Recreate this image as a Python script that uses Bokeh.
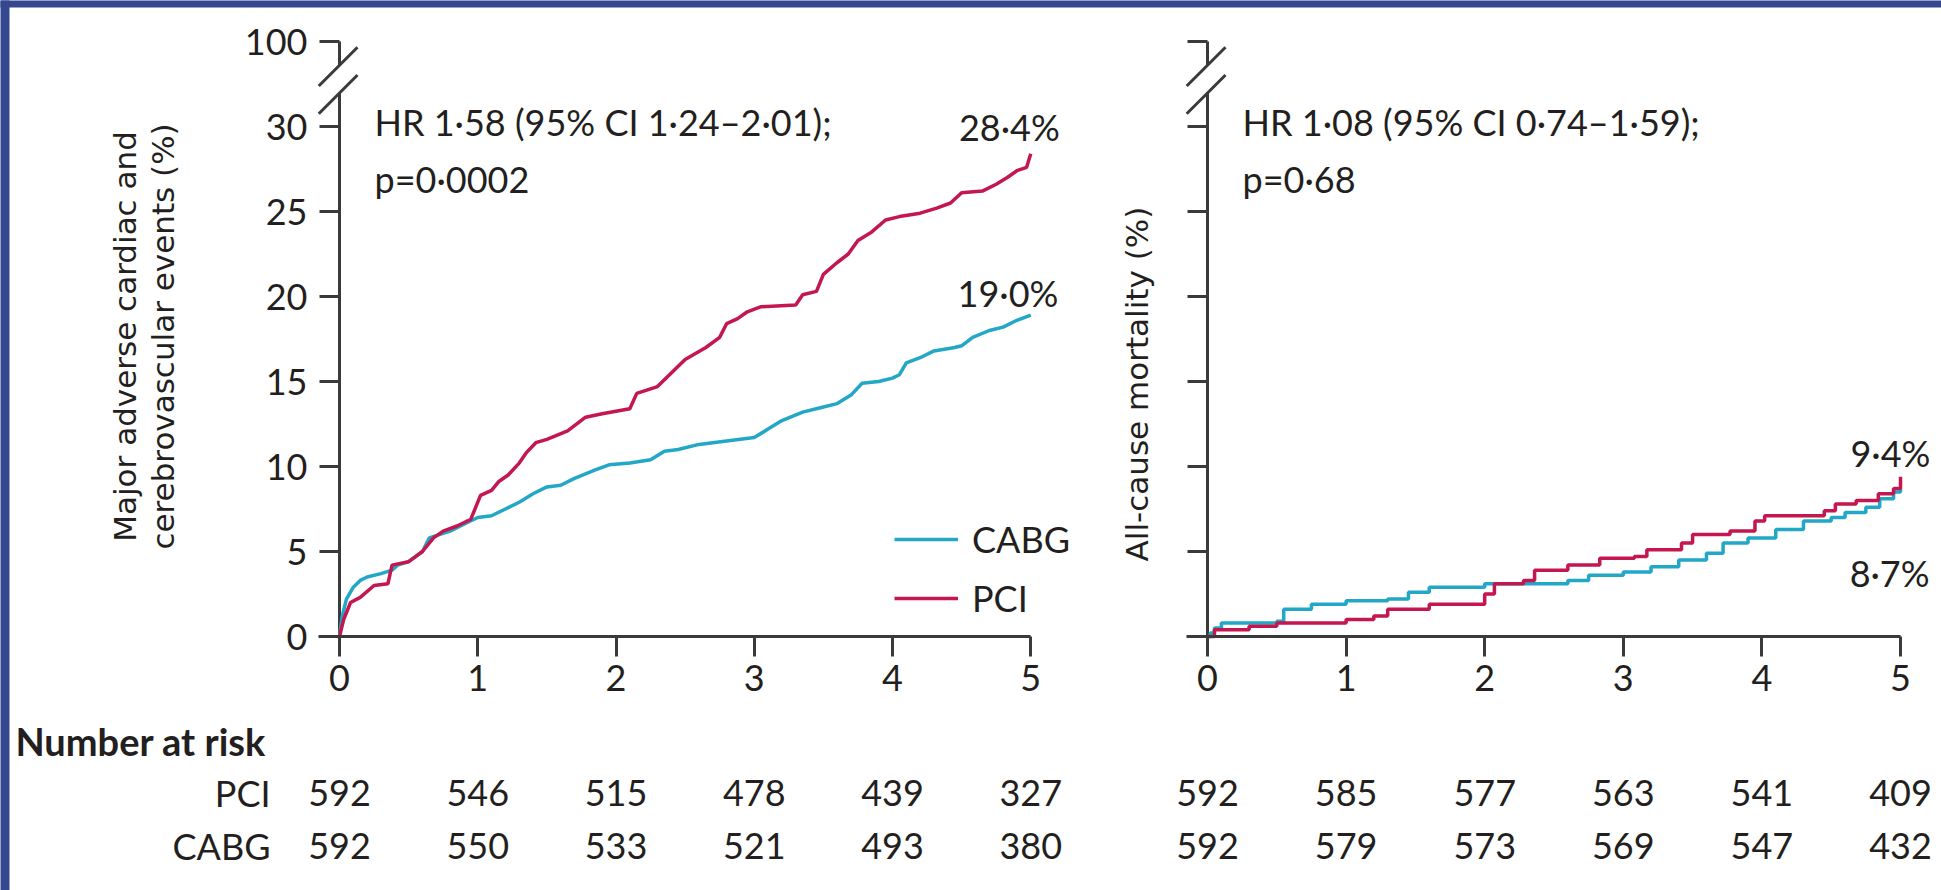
import math
from bokeh.plotting import figure
from bokeh.models import (Range1d, FixedTicker, Label, LabelSet, ColumnDataSource,
                          Legend, LegendItem, LinearAxis)
from bokeh.core.properties import value
from bokeh.embed import file_html
from bokeh.resources import INLINE

# ---------------- data ----------------
# Panel A: major adverse cardiac and cerebrovascular events (%)
mace_pci_t = [0, 0.03, 0.08, 0.15, 0.25, 0.35, 0.38, 0.5, 0.55, 0.6,
              0.68, 0.75, 0.85, 0.95, 1.02, 1.1, 1.15, 1.22, 1.3, 1.35,
              1.42, 1.5, 1.65, 1.78, 1.9, 2.1, 2.15, 2.3, 2.4, 2.5,
              2.65, 2.75, 2.8, 2.88, 2.95, 3.05, 3.3, 3.35, 3.45, 3.5,
              3.6, 3.68, 3.75, 3.85, 3.95, 4.05, 4.2, 4.32, 4.42, 4.5,
              4.65, 4.75, 4.83, 4.9, 4.97, 5.0]
mace_pci_y = [0, 1.0, 2.0, 2.3, 3.0, 3.1, 4.2, 4.4, 4.7, 5.0,
              5.8, 6.2, 6.5, 6.9, 8.3, 8.6, 9.1, 9.5, 10.2, 10.8,
              11.4, 11.6, 12.1, 12.9, 13.1, 13.4, 14.3, 14.7, 15.5, 16.3,
              17.0, 17.6, 18.4, 18.7, 19.1, 19.4, 19.5, 20.1, 20.3, 21.3,
              22.0, 22.5, 23.3, 23.8, 24.5, 24.7, 24.9, 25.2, 25.5, 26.1,
              26.2, 26.6, 27.0, 27.4, 27.6, 28.4]
mace_cabg_t = [0, 0.02, 0.05, 0.1, 0.15, 0.2, 0.3, 0.38, 0.42, 0.5,
               0.6, 0.65, 0.8, 0.9, 1.0, 1.1, 1.2, 1.3, 1.4, 1.5,
               1.6, 1.7, 1.85, 1.95, 2.1, 2.25, 2.35, 2.45, 2.6, 2.8,
               3.0, 3.1, 3.2, 3.35, 3.5, 3.6, 3.7, 3.78, 3.9, 4.0,
               4.05, 4.1, 4.2, 4.3, 4.45, 4.5, 4.58, 4.7, 4.8, 4.9, 5.0]
mace_cabg_y = [0, 1.2, 2.2, 2.9, 3.3, 3.5, 3.7, 3.9, 4.2, 4.4,
               5.0, 5.8, 6.2, 6.6, 7.0, 7.1, 7.5, 7.9, 8.4, 8.8,
               8.9, 9.3, 9.8, 10.1, 10.2, 10.4, 10.9, 11.0, 11.3, 11.5,
               11.7, 12.2, 12.7, 13.2, 13.5, 13.7, 14.2, 14.9, 15.0, 15.2,
               15.4, 16.1, 16.4, 16.8, 17.0, 17.1, 17.6, 18.0, 18.2, 18.6, 18.9]

# Panel B: all-cause mortality (%)
mort_cabg_t = [0, 0.02, 0.05, 0.1, 0.5, 0.55, 0.75, 1.0, 1.3, 1.45,
               1.6, 2.0, 2.6, 2.75, 3.0, 3.2, 3.4, 3.6, 3.72, 3.9,
               4.1, 4.3, 4.5, 4.6, 4.75, 4.85, 4.95, 5.0]
mort_cabg_y = [0, 0.2, 0.5, 0.8, 0.9, 1.6, 1.9, 2.1, 2.2, 2.6,
               2.9, 3.1, 3.3, 3.6, 3.8, 4.1, 4.5, 4.9, 5.5, 5.8,
               6.3, 6.8, 7.0, 7.3, 7.6, 8.1, 8.5, 8.7]
mort_pci_t = [0, 0.05, 0.3, 0.5, 1.0, 1.2, 1.3, 1.6, 2.0, 2.07,
              2.28, 2.36, 2.6, 2.83, 3.08, 3.17, 3.42, 3.5, 3.77, 3.95,
              4.02, 4.37, 4.45, 4.53, 4.68, 4.84, 4.95, 5.0]
mort_pci_y = [0, 0.4, 0.6, 0.8, 1.0, 1.2, 1.6, 1.9, 2.5, 3.1,
              3.3, 3.9, 4.2, 4.6, 4.7, 5.1, 5.5, 6.0, 6.2, 6.8,
              7.1, 7.1, 7.4, 7.8, 8.0, 8.4, 8.7, 9.4]

# Number at risk
risk_times = [0, 1, 2, 3, 4, 5]
mace_risk_pci = [592, 546, 515, 478, 439, 327]
mace_risk_cabg = [592, 550, 533, 521, 493, 380]
mort_risk_pci = [592, 585, 577, 563, 541, 409]
mort_risk_cabg = [592, 579, 573, 569, 547, 432]

x_ticks = [0, 1, 2, 3, 4, 5]
y_ticks = [0, 5, 10, 15, 20, 25, 30]
y_top_tick = 35            # plotted position of the "100" tick above the axis break
y_top_label = "100"

mace_ylabel = ["Major adverse cardiac and", "cerebrovascular events (%)"]
mort_ylabel = "All-cause mortality (%)"
mace_hr_text = "HR 1·58 (95% CI 1·24–2·01);"
mace_p_text = "p=0·0002"
mort_hr_text = "HR 1·08 (95% CI 0·74–1·59);"
mort_p_text = "p=0·68"
mace_end_pci, mace_end_cabg = "28·4%", "19·0%"
mort_end_pci, mort_end_cabg = "9·4%", "8·7%"

# ---------------- styles / layout ----------------
FONT = "Lato"
LABEL_FONT = "DejaVu Sans"
INK = "#231f20"
AXIS = "#3a3a3a"
CABG_COLOR = "#22a7c7"
PCI_COLOR = "#c4164f"
FRAME_BLUE = "#34478f"
FS = "36px"

W, H = 1941, 890                # canvas size (px)
Y0_PX, Y_UNIT = 636, 17.0       # pixel row of y=0 and px per y unit
L_X0_PX, L_UNIT = 339, 138.25   # left panel: pixel column of t=0, px per year
R_X0_PX, R_UNIT = 1207, 138.6   # right panel
BREAK_LOW, BREAK_HIGH = 31.97, 33.6
X_AXIS_START = -0.15
ROW_HEAD_Y, ROW_PCI_Y, ROW_CABG_Y = -6.12, -9.18, -12.35

fxl = lambda px: (px - L_X0_PX) / L_UNIT
fxr = lambda px: (px - R_X0_PX) / R_UNIT
fy = lambda py: (Y0_PX - py) / Y_UNIT

p = figure(frame_width=W, frame_height=H,
           x_range=Range1d(fxl(0), fxl(W)), y_range=Range1d(fy(H), fy(0)),
           output_backend="svg", toolbar_location=None,
           min_border=0, outline_line_color=None,
           background_fill_color="white", border_fill_color="white")
p.extra_x_ranges = {"right": Range1d(fxr(0), fxr(W))}
p.xgrid.visible = False
p.ygrid.visible = False

# blue page frame (top and left bands)
p.quad(left=[fxl(-20)], right=[fxl(W + 20)], top=[fy(-20)], bottom=[fy(7)],
       fill_color=FRAME_BLUE, line_color=None)
p.quad(left=[fxl(-20)], right=[fxl(9)], top=[fy(-20)], bottom=[fy(H + 20)],
       fill_color=FRAME_BLUE, line_color=None)


def style_xaxis(ax):
    ax.fixed_location = 0
    ax.bounds = (X_AXIS_START, 5)
    ax.ticker = FixedTicker(ticks=x_ticks)
    ax.major_tick_out = 20
    ax.major_tick_in = 0
    ax.minor_tick_out = 0
    ax.minor_tick_in = 0
    ax.axis_line_width = 3
    ax.axis_line_color = AXIS
    ax.major_tick_line_width = 3
    ax.major_tick_line_color = AXIS
    ax.major_label_text_font = FONT
    ax.major_label_text_font_size = FS
    ax.major_label_text_color = INK
    ax.major_label_standoff = 8


style_xaxis(p.xaxis[0])
xr_axis = LinearAxis(x_range_name="right")
style_xaxis(xr_axis)
p.add_layout(xr_axis, "below")

ay = p.yaxis[0]
ay.fixed_location = 0
ay.axis_line_color = None
ay.ticker = FixedTicker(ticks=y_ticks + [y_top_tick])
ay.major_label_overrides = {y_top_tick: y_top_label}
ay.major_tick_out = 20
ay.major_tick_in = 0
ay.minor_tick_out = 0
ay.minor_tick_in = 0
ay.major_tick_line_width = 3
ay.major_tick_line_color = AXIS
ay.major_label_text_font = FONT
ay.major_label_text_font_size = FS
ay.major_label_text_color = INK
ay.major_label_standoff = 12

# right panel y ticks (no labels)
ys = y_ticks + [y_top_tick]
p.segment(x0=[-20 / R_UNIT] * len(ys), y0=ys, x1=[0] * len(ys), y1=ys,
          line_width=3, line_color=AXIS, x_range_name="right")

# broken y-axis lines and break marks on both panels
for rname in ("default", "right"):
    p.segment(x0=[0, 0], y0=[0, BREAK_HIGH], x1=[0, 0], y1=[BREAK_LOW, y_top_tick],
              line_width=3, line_color=AXIS, x_range_name=rname)
    p.segment(x0=[X_AXIS_START, X_AXIS_START], y0=[BREAK_HIGH - 1.22, BREAK_LOW - 1.22],
              x1=[0.13, 0.13], y1=[BREAK_HIGH + 1.06, BREAK_LOW + 1.06],
              line_width=3, line_color=AXIS, x_range_name=rname)


def add_text(x, y, text, align="left", bold=False, size=FS, rname="default"):
    p.add_layout(Label(x=x, y=y, text=text, text_font=FONT, text_font_size=size,
                       text_color=INK, text_align=align, text_baseline="middle",
                       text_font_style="bold" if bold else "normal",
                       x_range_name=rname))


def add_ylabel(x, y, text, rname="default"):
    p.add_layout(Label(x=x, y=y, text=text, angle=math.pi / 2,
                       text_font=LABEL_FONT, text_font_size="31px",
                       text_color=INK, text_align="center", text_baseline="middle",
                       x_range_name=rname))


def add_risk_row(counts, ypos, rname="default"):
    src = ColumnDataSource(dict(t=risk_times, y=[ypos] * len(risk_times),
                                n=[str(c) for c in counts]))
    p.add_layout(LabelSet(x="t", y="y", text="n", source=src, x_range_name=rname,
                          text_font=value(FONT), text_font_size=value(FS),
                          text_color=INK, text_align="center", text_baseline="middle"))


# ---------------- left panel ----------------
r1c = p.line(mace_cabg_t, mace_cabg_y, line_width=3.5, line_color=CABG_COLOR)
r1p = p.line(mace_pci_t, mace_pci_y, line_width=3.5, line_color=PCI_COLOR)

add_ylabel(-1.548, 17.65, mace_ylabel[0])
add_ylabel(-1.280, 17.65, mace_ylabel[1])

add_text(0.253, 30.25, mace_hr_text)
add_text(0.253, 26.93, mace_p_text)
add_text(5.21, 30.0, mace_end_pci, align="right")
add_text(5.20, 20.2, mace_end_cabg, align="right")

legend = Legend(items=[LegendItem(label="CABG", renderers=[r1c]),
                       LegendItem(label="PCI", renderers=[r1p])],
                location=(894, 265), orientation="vertical",
                glyph_width=64, glyph_height=54, label_height=54,
                label_standoff=14, spacing=5, padding=0, margin=0,
                border_line_color=None, background_fill_alpha=0,
                label_text_font=FONT, label_text_font_size=FS,
                label_text_color=INK)
p.add_layout(legend)

add_text(-2.344, ROW_HEAD_Y, "Number at risk", bold=True, size="38px")
add_text(-0.499, ROW_PCI_Y, "PCI", align="right")
add_text(-0.499, ROW_CABG_Y, "CABG", align="right")
add_risk_row(mace_risk_pci, ROW_PCI_Y)
add_risk_row(mace_risk_cabg, ROW_CABG_Y)

# ---------------- right panel ----------------
p.step(mort_cabg_t, mort_cabg_y, mode="after", line_width=3.5, line_color=CABG_COLOR,
       x_range_name="right")
p.step(mort_pci_t, mort_pci_y, mode="after", line_width=3.5, line_color=PCI_COLOR,
       x_range_name="right")

add_ylabel(-0.512, 14.85, mort_ylabel, rname="right")

add_text(0.253, 30.25, mort_hr_text, rname="right")
add_text(0.253, 26.93, mort_p_text, rname="right")
add_text(5.216, 10.8, mort_end_pci, align="right", rname="right")
add_text(5.21, 3.75, mort_end_cabg, align="right", rname="right")

add_risk_row(mort_risk_pci, ROW_PCI_Y, rname="right")
add_risk_row(mort_risk_cabg, ROW_CABG_Y, rname="right")

open("out.html", "w").write(file_html(p, INLINE))
